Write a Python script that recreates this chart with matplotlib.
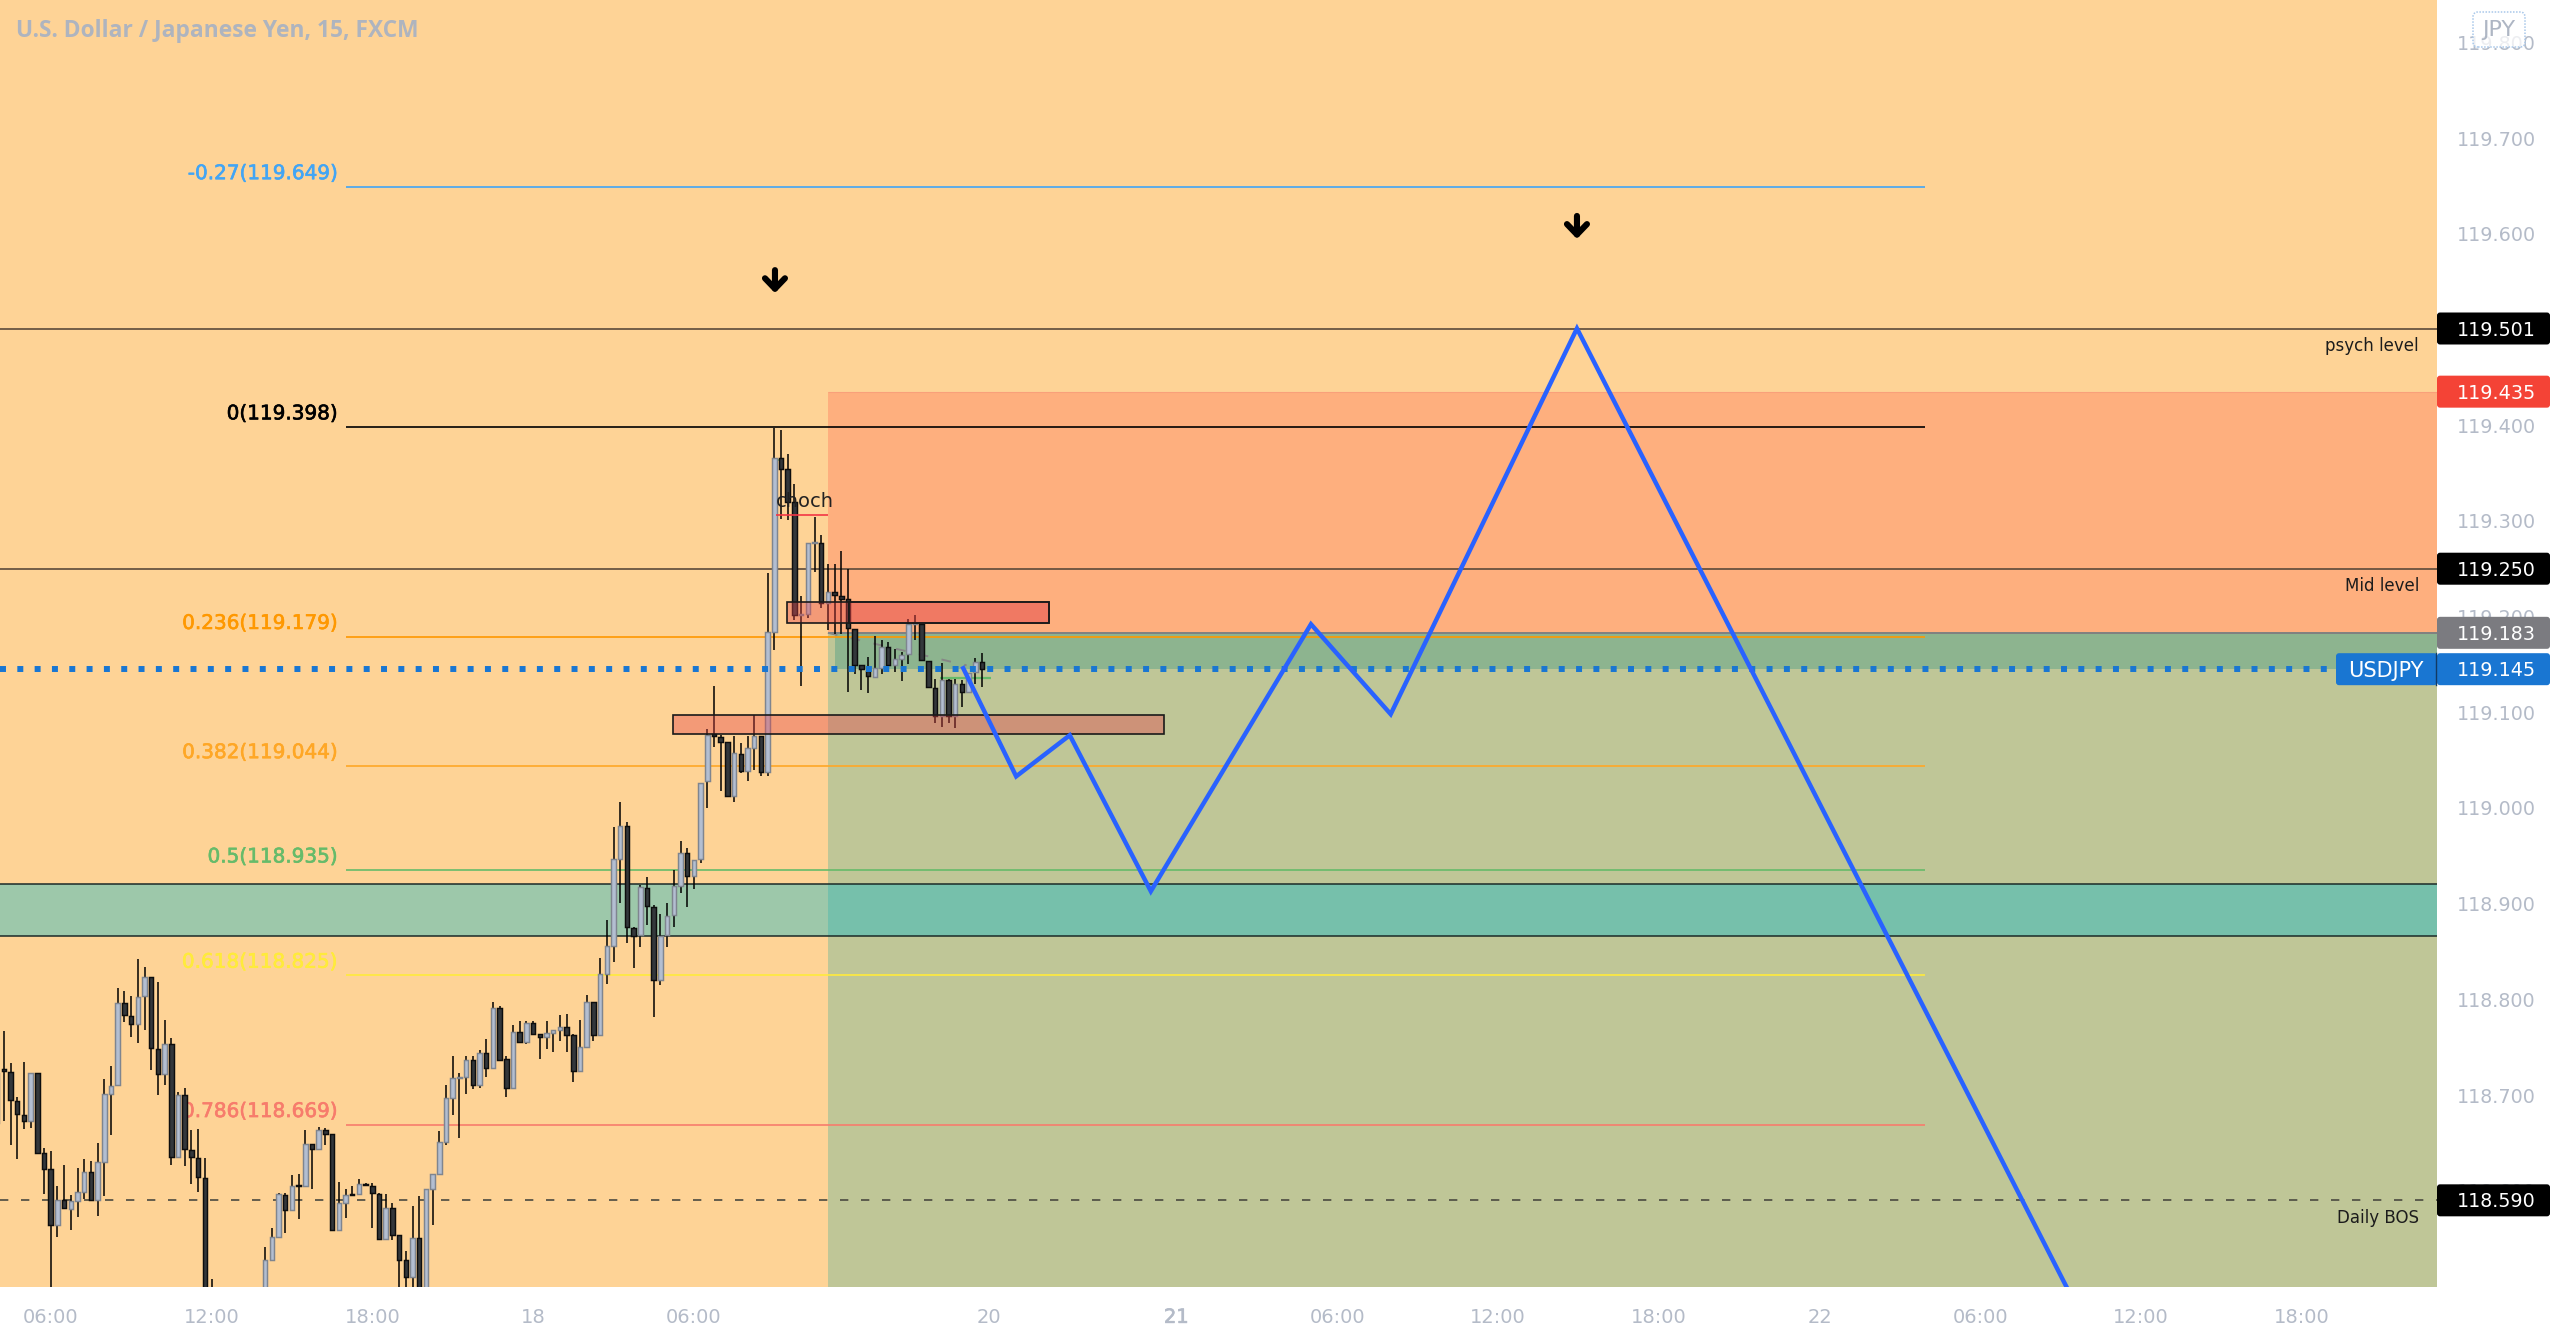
import matplotlib
matplotlib.use("Agg")
import matplotlib.pyplot as plt
import matplotlib.patheffects as pe
from matplotlib.patches import FancyBboxPatch, Rectangle
from matplotlib.transforms import blended_transform_factory, IdentityTransform

bar_index = list(range(-8, 25)) + list(range(32, 140))
ohlc_rows = """118.671 118.726 118.669 118.723
118.727 118.767 118.673 118.725
118.724 118.733 118.648 118.695
118.694 118.698 118.633 118.680
118.679 118.735 118.665 118.673
118.673 118.723 118.666 118.723
118.723 118.723 118.639 118.639
118.639 118.645 118.597 118.623
118.623 118.642 118.486 118.564
118.564 118.605 118.552 118.590
118.590 118.627 118.582 118.582
118.581 118.596 118.559 118.589
118.589 118.624 118.573 118.599
118.599 118.633 118.591 118.620
118.620 118.631 118.590 118.590
118.590 118.650 118.574 118.630
118.630 118.717 118.594 118.701
118.701 118.730 118.658 118.709
118.710 118.812 118.710 118.796
118.796 118.809 118.776 118.784
118.783 118.804 118.761 118.774
118.774 118.842 118.754 118.802
118.803 118.834 118.768 118.823
118.823 118.823 118.726 118.749
118.748 118.818 118.700 118.722
118.722 118.778 118.711 118.753
118.753 118.760 118.627 118.635
118.635 118.703 118.635 118.700
118.700 118.707 118.626 118.644
118.643 118.664 118.607 118.635
118.634 118.665 118.599 118.614
118.613 118.634 118.469 118.486
118.469 118.508 118.440 118.452
118.486 118.541 118.469 118.528
118.528 118.561 118.528 118.552
118.552 118.598 118.552 118.597
118.596 118.598 118.556 118.580
118.580 118.616 118.579 118.605
118.606 118.617 118.570 118.605
118.605 118.664 118.605 118.649
118.649 118.649 118.602 118.644
118.644 118.667 118.644 118.664
118.663 118.666 118.648 118.659
118.659 118.659 118.559 118.559
118.559 118.609 118.559 118.587
118.587 118.602 118.572 118.596
118.597 118.605 118.596 118.596
118.597 118.612 118.596 118.607
118.607 118.608 118.606 118.606
118.605 118.608 118.561 118.598
118.597 118.598 118.550 118.550
118.550 118.597 118.550 118.582
118.582 118.587 118.549 118.554
118.554 118.554 118.497 118.528
118.528 118.537 118.497 118.510
118.510 118.584 118.497 118.551
118.551 118.594 118.470 118.480
118.480 118.602 118.475 118.602
118.602 118.618 118.564 118.617
118.618 118.662 118.618 118.651
118.651 118.710 118.648 118.697
118.697 118.741 118.679 118.718
118.718 118.723 118.655 118.719
118.719 118.741 118.701 118.737
118.737 118.741 118.706 118.711
118.711 118.747 118.707 118.744
118.744 118.759 118.719 118.728
118.728 118.797 118.728 118.791
118.791 118.793 118.737 118.737
118.738 118.741 118.698 118.707
118.707 118.773 118.706 118.766
118.766 118.777 118.754 118.755
118.755 118.777 118.753 118.775
118.775 118.777 118.763 118.764
118.764 118.764 118.738 118.761
118.761 118.777 118.748 118.765
118.765 118.768 118.745 118.768
118.768 118.784 118.756 118.771
118.771 118.785 118.745 118.763
118.763 118.764 118.714 118.725
118.725 118.778 118.725 118.750
118.750 118.805 118.750 118.797
118.797 118.797 118.756 118.763
118.763 118.843 118.763 118.826
118.826 118.883 118.816 118.856
118.856 118.980 118.839 118.947
118.947 119.006 118.901 118.981
118.981 118.985 118.859 118.876
118.875 118.876 118.833 118.866
118.867 118.919 118.855 118.917
118.916 118.928 118.878 118.898
118.897 118.899 118.782 118.820
118.820 118.889 118.815 118.866
118.867 118.901 118.855 118.887
118.888 118.935 118.876 118.918
118.918 118.965 118.911 118.953
118.953 118.958 118.897 118.929
118.929 118.946 118.915 118.946
118.947 119.026 118.942 119.026
119.028 119.082 119.000 119.076
119.077 119.127 119.064 119.075
119.074 119.076 119.018 119.069
119.069 119.069 119.011 119.012
119.012 119.075 119.006 119.057
119.056 119.068 119.037 119.039
119.039 119.075 119.028 119.063
119.063 119.097 119.040 119.075
119.075 119.075 119.033 119.038
119.038 119.246 119.033 119.184
119.184 119.397 119.165 119.366
119.366 119.395 119.302 119.354
119.354 119.370 119.301 119.320
119.320 119.339 119.196 119.202
119.202 119.221 119.127 119.203
119.203 119.277 119.198 119.277
119.277 119.304 119.247 119.278
119.277 119.285 119.209 119.214
119.214 119.255 119.186 119.226
119.226 119.255 119.182 119.223
119.222 119.269 119.182 119.218
119.218 119.250 119.121 119.188
119.187 119.187 119.140 119.149
119.149 119.149 119.123 119.145
119.143 119.158 119.120 119.138
119.137 119.180 119.137 119.146
119.146 119.176 119.140 119.168
119.168 119.173 119.145 119.149
119.149 119.166 119.142 119.156
119.156 119.163 119.133 119.160
119.161 119.197 119.150 119.192
119.192 119.202 119.176 119.193
119.192 119.192 119.155 119.155
119.154 119.154 119.125 119.126
119.125 119.135 119.089 119.096
119.096 119.151 119.085 119.134
119.134 119.135 119.089 119.096
119.096 119.135 119.084 119.130
119.130 119.134 119.105 119.121
119.121 119.141 119.120 119.141
119.142 119.157 119.130 119.152
119.152 119.162 119.126 119.145"""
rows = [[float(v) for v in line.split()] for line in ohlc_rows.splitlines()]
opens = [r[0] for r in rows]
highs = [r[1] for r in rows]
lows = [r[2] for r in rows]
closes = [r[3] for r in rows]

fib_labels = ["-0.27(119.649)", "0(119.398)", "0.236(119.179)", "0.382(119.044)",
              "0.5(118.935)", "0.618(118.825)", "0.786(118.669)"]
fib_prices = [119.649, 119.398, 119.179, 119.044, 118.935, 118.825, 118.669]
fib_colors = ["#42a5f5", "#000000", "#ff9800", "#ffa726", "#66bb6a", "#ffeb3b", "#f77c6c"]

price_ticks = [119.8, 119.7, 119.6, 119.4, 119.3, 119.2, 119.1, 119.0, 118.9, 118.8, 118.7, 118.6]
time_tick_bars = [0, 24, 48, 72, 96, 140, 168, 192, 216, 240, 264, 288, 312, 336]
time_tick_labels = ["06:00", "12:00", "18:00", "18", "06:00", "20", "21", "06:00", "12:00",
                    "18:00", "22", "06:00", "12:00", "18:00"]

path_bars = [136.2, 144.1, 152.1, 164.2, 188.1, 200.0, 227.8, 302.0]
path_prices = [119.146, 119.033, 119.076, 118.913, 119.192, 119.098, 119.501, 118.484]

BG = "#FED396"
W, H = 2560, 1341
AX_R, AX_B = 2437, 1287
BAR_PX = 6.70
X0_PX = 50.7
PX_PER_PRICE = 957.0
Y_501 = 328.5

fig = plt.figure(figsize=(W / 100, H / 100), dpi=100, facecolor="white")
ax = fig.add_axes([0, (H - AX_B) / H, AX_R / W, AX_B / H], facecolor=BG)
ax.set_xlim(-X0_PX / BAR_PX, (AX_R - X0_PX) / BAR_PX)
ax.set_ylim(119.501 - (AX_B - Y_501) / PX_PER_PRICE, 119.501 + Y_501 / PX_PER_PRICE)
xmin, xmax = ax.get_xlim()
for s in ax.spines.values():
    s.set_visible(False)


def heavy(width, color):
    return [pe.withStroke(linewidth=width, foreground=color)]


TICK = "#B4BBC8"
ax.yaxis.tick_right()
ax.set_yticks(price_ticks)
ax.set_yticklabels([f"{p:.3f}" for p in price_ticks], fontsize=13.8, color=TICK)
ax.tick_params(axis="y", length=0, pad=14.4)
ax.set_xticks(time_tick_bars)
ax.set_xticklabels(time_tick_labels, fontsize=14, color=TICK)
for lab, txt in zip(ax.get_xticklabels(), time_tick_labels):
    if txt == "21":
        lab.set_path_effects(heavy(0.5, TICK))
ax.tick_params(axis="x", length=0, pad=15)

# position-tool zones
ZONE_L = 116.0
ax.add_patch(Rectangle((ZONE_L, 119.183), xmax - ZONE_L, 119.435 - 119.183, fc="#FEAF7E", ec="none", zorder=1))
ax.add_patch(Rectangle((ZONE_L, 118.49), xmax - ZONE_L, 119.183 - 118.49, fc="#BFC697", ec="none", zorder=1))
ax.add_patch(Rectangle((117, 119.145), xmax - 117, 119.183 - 119.145, fc="#8DB48F", ec="none", zorder=1.1))
ax.hlines(119.435, ZONE_L, xmax, color="#F9A07A", lw=0.8, zorder=1.2)
ax.hlines(119.183, ZONE_L, xmax, color="#808080", lw=1.4, zorder=1.2)

# teal band
ax.axhspan(118.866, 118.921, fc=(0.0, 0.72, 0.80), alpha=0.38, ec="none", zorder=1.3)
ax.hlines([118.866, 118.921], xmin, xmax, color="#1b2a28", lw=1.1, zorder=1.4)

# horizontal levels
ax.hlines([119.501, 119.25], xmin, xmax, color="#5b4a3a", lw=1.2, zorder=1.5)
ax.hlines(118.59, xmin, xmax, color="#4a4a40", lw=1.2, linestyles=(0, (5, 7.6)), zorder=1.5)

# fib
FIB_L = (346 - X0_PX) / BAR_PX
FIB_R = (1925 - X0_PX) / BAR_PX
for p, c, lab in zip(fib_prices, fib_colors, fib_labels):
    ax.hlines(p, FIB_L, FIB_R, color=c, lw=1.2, zorder=1.6)
    ann = ax.annotate(lab, xy=(FIB_L, p), xytext=(-6, 9.5), textcoords="offset points", ha="right",
                      va="center", color=c, fontsize=14.4, zorder=1.7)
    ann.set_path_effects(heavy(0.45, c))

# candles
UP_F, UP_E = "#B3BED1", "#7F858F"
DN_F, DN_E = "#33373B", "#0d0d0d"
ups = [c >= o for o, c in zip(opens, closes)]
ax.vlines(bar_index, lows, highs, color="#000000", lw=1.1, zorder=3)
for group, f, e in ((True, UP_F, UP_E), (False, DN_F, DN_E)):
    xs = [x for x, u in zip(bar_index, ups) if u == group]
    bot = [min(o, c) for o, c, u in zip(opens, closes, ups) if u == group]
    hei = [abs(c - o) for o, c, u in zip(opens, closes, ups) if u == group]
    ax.bar(xs, hei, bottom=bot, width=0.66, fc=f, ec=e, lw=1.05, zorder=3.1)

# small drawings
ax.hlines(119.306, 108.3, 116, color="#F23645", lw=1.2, zorder=3.2)
ax.hlines(119.364, 108, 109, color="#66bb6a", lw=1.2, zorder=2.9)
ax.hlines(119.136, 132.8, 140.4, color="#66bb6a", lw=1.6, zorder=2.9)
ax.plot([116, 136.7], [119.183, 119.149], color="#868686", lw=1.4, ls=(0, (5, 7)), zorder=2.95)
ax.text(112.5, 119.320, "choch", ha="center", va="center", fontsize=14, color="#222222", zorder=3.3)

# supply / demand boxes
RED = (0.89, 0.275, 0.29)
box_x0 = [109.9, 119.1, 119.1, 92.9]
box_x1 = [119.1, 149.0, 149.0, 166.2]
box_lo = [119.193, 119.193, 119.193, 119.077]
box_hi = [119.2155, 119.2155, 119.2155, 119.097]
box_alpha = [0.4, 0.4, 0.18, 0.4]
for a, b, lo, hi, al in zip(box_x0, box_x1, box_lo, box_hi, box_alpha):
    ax.add_patch(Rectangle((a, lo), b - a, hi - lo, fc=RED + (al,), ec="#1a1a1a", lw=1.2, zorder=3.4))

# current price dots
ax.hlines(119.145, xmin, xmax, color="#1976D2", lw=4.3, linestyles=(0, (1, 1.9)), zorder=3.5)

# projected path
ax.plot(path_bars, path_prices, color="#2962FF", lw=3.2, solid_joinstyle="miter", zorder=4)

# arrows
for bx, top, bot in ((108.1, 119.562, 119.538), (227.8, 119.6186, 119.5946)):
    ax.annotate("", xy=(bx, bot), xytext=(bx, top),
                arrowprops=dict(arrowstyle="->,head_length=0.5,head_width=0.48", color="black", lw=4.4,
                                mutation_scale=15, shrinkA=0, shrinkB=0), zorder=4.5)

# title
ax.text(16 / AX_R, 1 - 31 / AX_B, "U.S. Dollar / Japanese Yen, 15, FXCM", transform=ax.transAxes,
        fontsize=16.4, fontweight="bold", family="Open Sans", color="#AEB4BF", va="center", ha="left", zorder=5)

# right notes
trans = blended_transform_factory(ax.transAxes, ax.transData)
for lab, p in (("psych level", 119.501), ("Mid level", 119.25), ("Daily BOS", 118.59)):
    ax.annotate(lab, xy=(2419 / AX_R, p), xycoords=trans, xytext=(0, -12.5), textcoords="offset points",
                ha="right", va="center", fontsize=12, color="#1c1c1c", zorder=5)


# price badges
def badge(x0, x1, price, color, text, tx, size=13.8):
    yc = ax.transData.transform((0, price))[1]
    ax.add_patch(FancyBboxPatch((x0 + 3, yc - 13), x1 - x0 - 6, 26,
                                boxstyle="round,pad=3,rounding_size=3", transform=IdentityTransform(),
                                fc=color, ec="none", clip_on=False, zorder=8))
    ax.text(tx, yc - 1.5, text, transform=IdentityTransform(), color="white", fontsize=size,
            ha="left", va="center", zorder=9, clip_on=False)


badge_prices = [119.501, 119.435, 119.25, 119.183, 118.59]
badge_colors = ["#000000", "#F44336", "#000000", "#7B7B80", "#000000"]
for p, c in zip(badge_prices, badge_colors):
    badge(2437, 2550, p, c, f"{p:.3f}", 2457)
badge(2336, 2437, 119.145, "#1976D2", "USDJPY", 2348, size=15)
badge(2437, 2550, 119.145, "#1976D2", "119.145", 2457)
yc = ax.transData.transform((0, 119.145))[1]
ax.plot([2436, 2436], [yc - 16, yc + 16], transform=IdentityTransform(), color="#123a63", lw=1.0,
        clip_on=False, zorder=8.5)

# currency button
ax.add_patch(FancyBboxPatch((2476, H - 44), 46, 29, boxstyle="round,pad=3,rounding_size=5",
                            transform=IdentityTransform(), fc=(1, 1, 1, 0.75), ec="#A9C8EA", lw=1.1,
                            ls=(0, (1, 1)), clip_on=False, zorder=8))
ax.text(2499, H - 30, "JPY", transform=IdentityTransform(), color="#AEB6C4", fontsize=16,
        ha="center", va="center", clip_on=False, zorder=9)

fig.savefig("out.png", dpi=100)
